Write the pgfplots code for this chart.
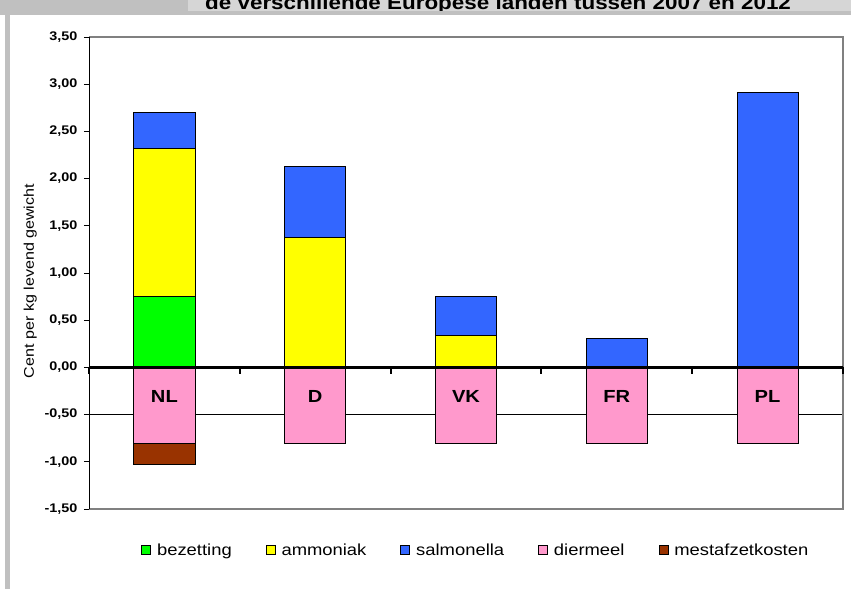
\documentclass[border=0pt]{standalone}
\usepackage{fontspec}
\setmainfont{Liberation Sans}[FakeStretch=1.15]
\usepackage{pgfplots}
\pgfplotsset{compat=1.18}
\definecolor{cGreen}{HTML}{00FF00}
\definecolor{cYellow}{HTML}{FFFF00}
\definecolor{cBlue}{HTML}{3366FF}
\definecolor{cPink}{HTML}{FF99CC}
\definecolor{cBrown}{HTML}{993300}
\definecolor{frameGrey}{HTML}{C0C0C0}
\definecolor{bandGrey}{HTML}{D6D6D6}
\definecolor{borderGrey}{HTML}{808080}

\begin{document}
\begin{tikzpicture}
\useasboundingbox (0,0) rectangle (851pt,589pt);
\fill[white] (0,0) rectangle (851pt,589pt);
% window frame bits
\fill[frameGrey] (0,574pt) rectangle (851pt,589pt);
\fill[bandGrey] (188pt,578pt) rectangle (851pt,589pt);
\fill[frameGrey] (5pt,0) rectangle (10pt,574pt);
\begin{scope}
  \clip (188pt,578pt) rectangle (851pt,589pt);
  \node[anchor=base west, inner sep=0pt, font=\bfseries\fontsize{19.5}{20}\selectfont]
    at (205pt,579.5pt) {de verschillende Europese landen tussen 2007 en 2012};
\end{scope}

\begin{axis}[
  at={(89pt,80pt)}, anchor=south west,
  scale only axis, width=754pt, height=472pt,
  xmin=-0.5, xmax=4.5, ymin=-1.5, ymax=3.5,
  clip=false, axis on top,
  axis line style={draw=none},
  xtick={0,1,2,3,4},
  xticklabels={NL,D,VK,FR,PL},
  xtick style={draw=none},
  xticklabel style={anchor=center, yshift=112.5pt, font=\bfseries\fontsize{17.5}{17.5}\selectfont},
  ytick={-1.5,-1,-0.5,0,0.5,1,1.5,2,2.5,3,3.5},
  ytick pos=left, ytick align=outside, major tick length=5pt,
  ytick style={black, line width=0.8pt},
  scaled y ticks=false,
  /pgf/number format/assume math mode=true,
  yticklabel style={/pgf/number format/.cd, fixed, fixed zerofill, precision=2, use comma,
    /tikz/.cd, font=\bfseries\fontsize{12.5}{12.5}\selectfont, xshift=-3pt},
  ylabel={Cent per kg levend gewicht},
  every axis y label/.style={at={(axis description cs:-0.078,0.483)}, rotate=90, anchor=center,
    font=\fontsize{14}{14}\selectfont},
  legend columns=5,
  legend image code/.code={\draw[#1] (0pt,-4.5pt) rectangle (9pt,4.5pt);},
  legend style={at={(0.513,-0.087)}, anchor=center, draw=none,
    font=\fontsize{16}{18}\selectfont,
    /tikz/every odd column/.append style={column sep=4pt},
    /tikz/every even column/.append style={column sep=32pt}},
]
\addlegendimage{fill=cGreen, draw=black, line width=0.8pt}
\addlegendentry{bezetting}
\addlegendimage{fill=cYellow, draw=black, line width=0.8pt}
\addlegendentry{ammoniak}
\addlegendimage{fill=cBlue, draw=black, line width=0.8pt}
\addlegendentry{salmonella}
\addlegendimage{fill=cPink, draw=black, line width=0.8pt}
\addlegendentry{diermeel}
\addlegendimage{fill=cBrown, draw=black, line width=0.8pt}
\addlegendentry{mestafzetkosten}

% gridline at -0.50
\draw[black, line width=0.7pt] (axis cs:-0.5,-0.5) -- (axis cs:4.5,-0.5);

% bars drawn from zero up to the cumulative top of each segment
% salmonella (top of stack)
\addplot[ybar, bar width=61pt, bar shift=0pt, fill=cBlue, draw=black, line width=0.8pt, forget plot]
  coordinates {(0,2.70) (1,2.13) (2,0.75) (3,0.31) (4,2.91)};
% ammoniak
\addplot[ybar, bar width=61pt, bar shift=0pt, fill=cYellow, draw=black, line width=0.8pt, forget plot]
  coordinates {(0,2.32) (1,1.38) (2,0.34)};
% bezetting
\addplot[ybar, bar width=61pt, bar shift=0pt, fill=cGreen, draw=black, line width=0.8pt, forget plot]
  coordinates {(0,0.75)};
% mestafzetkosten (below diermeel)
\addplot[ybar, bar width=61pt, bar shift=0pt, fill=cBrown, draw=black, line width=0.8pt, forget plot]
  coordinates {(0,-1.03)};
% diermeel
\addplot[ybar, bar width=61pt, bar shift=0pt, fill=cPink, draw=black, line width=0.8pt, forget plot]
  coordinates {(0,-0.81) (1,-0.81) (2,-0.81) (3,-0.81) (4,-0.81)};

% plot area border and axes
\draw[borderGrey, line width=1.2pt] (rel axis cs:0,0) -- (rel axis cs:1,0) -- (rel axis cs:1,1) -- (rel axis cs:0,1);
\draw[black, line width=0.8pt] (rel axis cs:0,0) -- (rel axis cs:0,1);
\draw[black, line width=3pt] (axis cs:-0.5,0) -- (axis cs:4.5,0);
\pgfplotsinvokeforeach{-0.5,0.5,1.5,2.5,3.5,4.5}{
  \draw[black, line width=2pt] (axis cs:#1,0) -- ++(0pt,-7pt);
}
\end{axis}
\end{tikzpicture}
\end{document}
